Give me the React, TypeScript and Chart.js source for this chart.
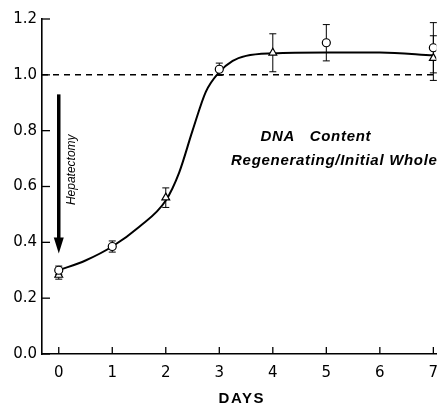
import React, { useEffect, useRef } from "react";
import { Chart, registerables } from "chart.js";

Chart.register(...registerables);

const xTicks = [0, 1, 2, 3, 4, 5, 6, 7];
const yTicks = [0, 0.2, 0.4, 0.6, 0.8, 1.0, 1.2];

// Circles (open) with SE
const circleDays = [0, 1, 3, 5, 7];
const circleValues = [0.3, 0.385, 1.02, 1.115, 1.097];
const circleErr = [0.015, 0.02, 0.022, 0.065, 0.09];

// Triangles (open) with SE
const triDays = [0, 2, 4, 7];
const triValues = [0.283, 0.56, 1.079, 1.06];
const triErr = [0.015, 0.035, 0.068, 0.08];

// Fitted curve
const curveDays = [0, 0.5, 1, 1.5, 2, 2.25, 2.5, 2.75, 3, 3.25, 3.5, 4, 5, 6, 7];
const curveValues = [0.3, 0.335, 0.385, 0.455, 0.55, 0.65, 0.8, 0.94, 1.01, 1.05, 1.068, 1.077, 1.08, 1.08, 1.07];

const refValue = 1.0;
const X_MIN = -0.313;
const X_MAX = 7.055;

const TICK_FONT = "'DejaVu Sans', 'Liberation Sans', Arial, sans-serif";

const errorBarsPlugin = {
  id: "errorBars",
  beforeDatasetsDraw(chart: any) {
    const { ctx, scales } = chart;
    const xs = scales.x;
    const ys = scales.y;
    ctx.save();
    ctx.strokeStyle = "#000";
    ctx.lineWidth = 1;
    const draw = (days: number[], vals: number[], errs: number[]) => {
      days.forEach((d, i) => {
        const px = xs.getPixelForValue(d);
        const top = ys.getPixelForValue(vals[i] + errs[i]);
        const bot = ys.getPixelForValue(vals[i] - errs[i]);
        ctx.beginPath();
        ctx.moveTo(px, top);
        ctx.lineTo(px, bot);
        ctx.moveTo(px - 3.5, top);
        ctx.lineTo(px + 3.5, top);
        ctx.moveTo(px - 3.5, bot);
        ctx.lineTo(px + 3.5, bot);
        ctx.stroke();
      });
    };
    draw(circleDays, circleValues, circleErr);
    draw(triDays, triValues, triErr);
    ctx.restore();
  },
};

const decorPlugin = {
  id: "decor",
  afterDraw(chart: any) {
    const { ctx, scales, chartArea } = chart;
    const xs = scales.x;
    const ys = scales.y;
    ctx.save();
    ctx.strokeStyle = "#000";
    ctx.fillStyle = "#000";
    ctx.lineWidth = 1.3;
    // inward ticks
    yTicks.forEach((v) => {
      const py = ys.getPixelForValue(v);
      ctx.beginPath();
      ctx.moveTo(chartArea.left, py);
      ctx.lineTo(chartArea.left + 8, py);
      ctx.stroke();
    });
    xTicks.forEach((v) => {
      const px = xs.getPixelForValue(v);
      ctx.beginPath();
      ctx.moveTo(px, chartArea.bottom);
      ctx.lineTo(px, chartArea.bottom - 7);
      ctx.stroke();
    });

    // Hepatectomy arrow
    const ax = xs.getPixelForValue(0);
    const aTop = ys.getPixelForValue(0.93);
    const aTip = ys.getPixelForValue(0.36);
    ctx.lineWidth = 3.5;
    ctx.beginPath();
    ctx.moveTo(ax, aTop);
    ctx.lineTo(ax, aTip - 12);
    ctx.stroke();
    ctx.beginPath();
    ctx.moveTo(ax - 5, aTip - 16);
    ctx.lineTo(ax + 5, aTip - 16);
    ctx.lineTo(ax, aTip);
    ctx.closePath();
    ctx.fill();

    // Hepatectomy label
    ctx.save();
    ctx.translate(ax + 13, ys.getPixelForValue(0.66));
    ctx.rotate(-Math.PI / 2);
    ctx.font = "italic 12px 'Liberation Sans', Arial, sans-serif";
    ctx.textAlign = "center";
    ctx.textBaseline = "middle";
    ctx.fillText("Hepatectomy", 0, 0);
    ctx.restore();

    // annotation
    ctx.font = "italic bold 15px 'Liberation Sans', Arial, sans-serif";
    (ctx as any).letterSpacing = "0.7px";
    ctx.textAlign = "left";
    ctx.textBaseline = "middle";
    ctx.fillText("DNA   Content", xs.getPixelForValue(3.77), ys.getPixelForValue(0.778));
    ctx.fillText("Regenerating/Initial Whole", xs.getPixelForValue(3.22), ys.getPixelForValue(0.692));

    // axis title
    (ctx as any).letterSpacing = "1.5px";
    ctx.font = "bold 15px 'Liberation Sans', Arial, sans-serif";
    ctx.textAlign = "center";
    ctx.fillText("DAYS", xs.getPixelForValue(3.42), chartArea.bottom + 45);
    ctx.restore();
  },
};

export default function App() {
  const ref = useRef<HTMLCanvasElement | null>(null);
  useEffect(() => {
    if (!ref.current) return;
    const chart = new Chart(ref.current, {
      type: "scatter",
      data: {
        datasets: [
          {
            type: "line",
            data: curveDays.map((d, i) => ({ x: d, y: curveValues[i] })),
            borderColor: "#000",
            borderWidth: 2,
            pointRadius: 0,
            cubicInterpolationMode: "monotone",
            fill: false,
            order: 3,
          } as any,
          {
            type: "line",
            data: [
              { x: X_MIN, y: refValue },
              { x: X_MAX, y: refValue },
            ],
            borderColor: "#000",
            borderWidth: 1.5,
            borderDash: [6, 5],
            pointRadius: 0,
            fill: false,
            order: 4,
          } as any,
          {
            data: circleDays.map((d, i) => ({ x: d, y: circleValues[i] })),
            pointStyle: "circle",
            pointRadius: 4,
            borderColor: "#000",
            borderWidth: 1.2,
            backgroundColor: "#fff",
            order: 1,
          },
          {
            data: triDays.map((d, i) => ({ x: d, y: triValues[i] })),
            pointStyle: "triangle",
            pointRadius: 4.5,
            borderColor: "#000",
            borderWidth: 1.2,
            backgroundColor: "#fff",
            order: 2,
          },
        ],
      },
      options: {
        animation: false,
        responsive: false,
        devicePixelRatio: window.devicePixelRatio || 1,
        layout: { padding: { top: 19, left: 0, right: 0, bottom: 0 } },
        plugins: {
          legend: { display: false },
          tooltip: { enabled: false },
        },
        scales: {
          x: {
            type: "linear",
            min: X_MIN,
            max: X_MAX,
            grid: { display: false, drawTicks: false },
            border: { display: true, color: "#000", width: 1.6 },
            afterBuildTicks: (s: any) => {
              s.ticks = xTicks.map((v) => ({ value: v }));
            },
            ticks: {
              color: "#000",
              padding: 10,
              maxRotation: 0,
              font: { family: TICK_FONT, size: 15 },
              callback: (v: any) => String(v),
            },
            afterFit: (s: any) => {
              s.height = 52;
              s.paddingLeft = 0;
              s.paddingRight = 0;
            },
          },
          y: {
            type: "linear",
            min: 0,
            max: 1.2,
            grid: { display: false, drawTicks: false },
            border: { display: true, color: "#000", width: 1.6 },
            afterBuildTicks: (s: any) => {
              s.ticks = yTicks.map((v) => ({ value: v }));
            },
            ticks: {
              color: "#000",
              padding: 5,
              font: { family: TICK_FONT, size: 15 },
              callback: (v: any) => Number(v).toFixed(1),
            },
            afterFit: (s: any) => {
              s.width = 42;
              s.paddingTop = 0;
              s.paddingBottom = 0;
            },
          },
        },
      },
      plugins: [errorBarsPlugin, decorPlugin],
    });
    return () => chart.destroy();
  }, []);

  return (
    <div style={{ position: "absolute", left: 0, top: 0, width: 442, height: 406, background: "#fff" }}>
      <canvas ref={ref} width={442} height={406} style={{ width: 442, height: 406 }} />
    </div>
  );
}
